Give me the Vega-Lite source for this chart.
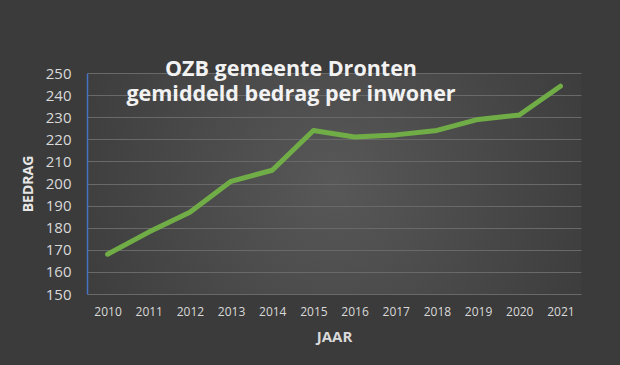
{
  "$schema": "https://vega.github.io/schema/vega-lite/v6.json",
  "autosize": {"type": "none"},
  "width": 494,
  "height": 221,
  "padding": {"left": 87, "top": 73, "right": 39, "bottom": 71},
  "background": "#3b3b3b",
  "view": {
    "stroke": null,
    "fill": {
      "gradient": "radial",
      "x1": 0.5, "y1": 0.5, "r1": 0,
      "x2": 0.5, "y2": 0.5, "r2": 0.55,
      "stops": [
        {"offset": 0, "color": "#585858"},
        {"offset": 1, "color": "#3d3d3d"}
      ]
    }
  },
  "title": {
    "text": ["OZB gemeente Dronten", "gemiddeld bedrag per inwoner"],
    "font": "Open Sans",
    "fontSize": 21.5,
    "fontWeight": "bold",
    "color": "#f2f2f2",
    "lineHeight": 25,
    "anchor": "middle",
    "dx": -43,
    "offset": -39
  },
  "data": {
    "values": [
      {"Jaar": "2010", "Bedrag": 168},
      {"Jaar": "2011", "Bedrag": 178},
      {"Jaar": "2012", "Bedrag": 187},
      {"Jaar": "2013", "Bedrag": 201},
      {"Jaar": "2014", "Bedrag": 206},
      {"Jaar": "2015", "Bedrag": 224},
      {"Jaar": "2016", "Bedrag": 221},
      {"Jaar": "2017", "Bedrag": 222},
      {"Jaar": "2018", "Bedrag": 224},
      {"Jaar": "2019", "Bedrag": 229},
      {"Jaar": "2020", "Bedrag": 231},
      {"Jaar": "2021", "Bedrag": 244}
    ]
  },
  "mark": {"type": "line", "color": "#70AD47", "strokeWidth": 5, "strokeCap": "round", "strokeJoin": "round"},
  "encoding": {
    "x": {
      "field": "Jaar",
      "type": "ordinal",
      "scale": {"type": "point", "padding": 0.5},
      "axis": {
        "title": "JAAR",
        "labelAngle": 0,
        "domain": false,
        "ticks": false,
        "grid": false,
        "labelFont": "Open Sans",
        "labelFontSize": 12,
        "labelColor": "#d9d9d9",
        "labelPadding": 12,
        "titleFont": "Open Sans",
        "titleFontSize": 15,
        "titleFontWeight": "bold",
        "titleColor": "#d9d9d9",
        "titlePadding": 12
      }
    },
    "y": {
      "field": "Bedrag",
      "type": "quantitative",
      "scale": {"domain": [150, 250], "nice": false, "zero": false},
      "axis": {
        "title": "BEDRAG",
        "values": [150, 160, 170, 180, 190, 200, 210, 220, 230, 240, 250],
        "domain": true,
        "domainColor": "#4472C4",
        "domainWidth": 1.5,
        "ticks": false,
        "grid": true,
        "gridColor": "#696969",
        "gridWidth": 1,
        "labelFont": "Open Sans",
        "labelFontSize": 15,
        "labelColor": "#d9d9d9",
        "labelPadding": 16,
        "titleFont": "Open Sans",
        "titleFontSize": 14,
        "titleFontWeight": "bold",
        "titleColor": "#e6e6e6",
        "titlePadding": 10
      }
    }
  }
}
